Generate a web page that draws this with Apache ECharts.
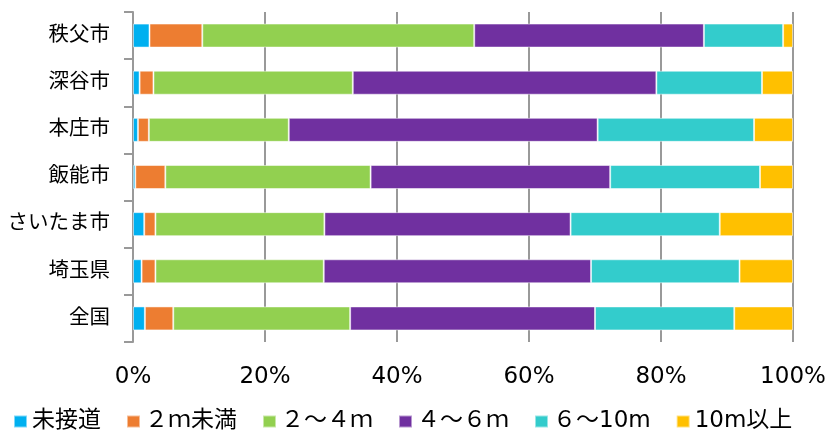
<!DOCTYPE html>
<html><head><meta charset="utf-8">
<script src="https://cdn.jsdelivr.net/npm/echarts@6/dist/echarts.min.js"></script>
<style>html,body{margin:0;padding:0;background:#fff}#c{width:828px;height:432px}</style>
</head><body><div id="c"></div>
<script>
const categories = ['秩父市','深谷市','本庄市','飯能市','さいたま市','埼玉県','全国'];
const seriesNames = ['未接道','２ｍ未満','２～４ｍ','４～６ｍ','６～10m','10m以上'];
const s_mistsudo = [2.5, 1.0, 0.75, 0.35, 1.7, 1.3, 1.8];
const s_lt2 = [8.0, 2.1, 1.65, 4.55, 1.7, 2.1, 4.3];
const s_2to4 = [41.2, 30.2, 21.2, 31.1, 25.6, 25.5, 26.8];
const s_4to6 = [34.8, 46.0, 46.8, 36.3, 37.3, 40.5, 37.1];
const s_6to10 = [12.0, 16.0, 23.7, 22.7, 22.6, 22.5, 21.1];
const s_ge10 = [1.5, 4.7, 5.9, 5.0, 11.1, 8.1, 8.9];
const colors = ['#00B0F0','#ED7D31','#92D050','#7030A0','#33CCCC','#FFC000'];
const allData = [s_mistsudo, s_lt2, s_2to4, s_4to6, s_6to10, s_ge10];
const font = 'DejaVu Sans, "Noto Sans CJK JP", sans-serif';
const chart = echarts.init(document.getElementById('c'));
chart.setOption({
  animation:false,
  color: colors,
  grid:{left:133,right:35,top:12,bottom:90,containLabel:false,outerBoundsMode:'none'},
  legend:{top:405,left:8,itemWidth:13,itemHeight:12,itemGap:25,icon:'rect',
    textStyle:{fontSize:23,color:'#000',fontFamily:font},data:seriesNames},
  xAxis:{type:'value',min:0,max:100,interval:20,
    axisLabel:{formatter:'{value}%',fontSize:23,color:'#000',fontFamily:font,margin:24},
    splitLine:{show:true,lineStyle:{color:'#999',width:2}},
    axisLine:{show:false},axisTick:{show:false}},
  yAxis:{type:'category',data:categories,inverse:true,
    axisLine:{show:true,lineStyle:{color:'#999',width:2}},
    axisTick:{show:true,length:9,lineStyle:{color:'#999',width:2}},
    axisLabel:{fontSize:20.5,color:'#000',fontFamily:font,margin:23}},
  series: seriesNames.map((n,i)=>({name:n,type:'bar',stack:'a',data:allData[i],barWidth:24,
    itemStyle:{borderColor:'rgba(255,255,255,0.5)',borderWidth:1}}))
});
</script></body></html>
